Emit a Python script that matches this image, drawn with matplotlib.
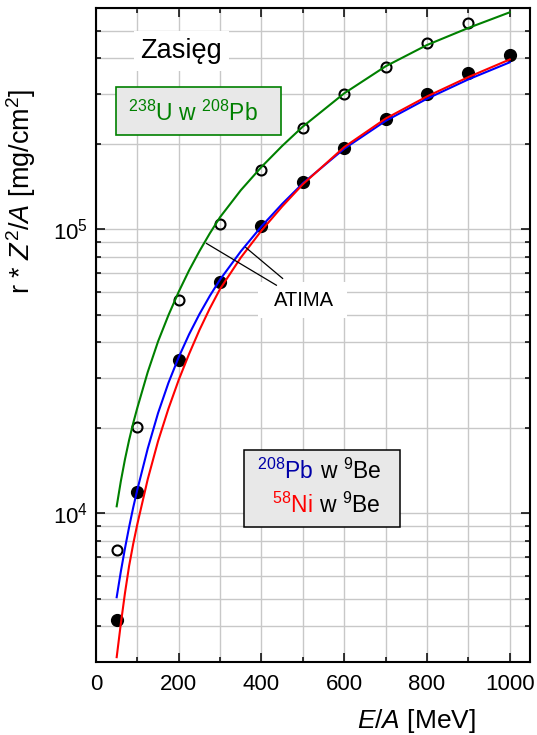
import matplotlib
matplotlib.use("Agg")
import matplotlib.pyplot as plt
from matplotlib.patches import Rectangle
from matplotlib.ticker import MultipleLocator, LogLocator, NullFormatter

# czcionki podobne do Arial, indeksy gorne tez w tej samej czcionce
plt.rcParams["font.family"] = ["Liberation Sans", "DejaVu Sans"]
plt.rcParams["mathtext.fontset"] = "custom"
plt.rcParams["mathtext.rm"] = "Liberation Sans"
plt.rcParams["mathtext.it"] = "Liberation Sans:italic"
plt.rcParams["mathtext.bf"] = "Liberation Sans:bold"
plt.rcParams["mathtext.default"] = "regular"

# pomiary (punkty)
e_u_pb = [50, 100, 200, 300, 400, 500, 600, 700, 800, 900]
r_u_pb = [7410, 20200, 56400, 104100, 161400, 227000, 298700, 373000, 453000, 532000]

e_be = [50, 100, 200, 300, 400, 500, 600, 700, 800, 900, 1000]
r_be = [4200, 11890, 34600, 65200, 102500, 146000, 193500, 244200, 298700, 355600, 409000]

# krzywe ATIMA
e_green = [50, 60, 70, 80, 90, 100, 125, 150, 175, 200, 225, 250, 275, 300, 350,
           400, 450, 500, 600, 700, 800, 900, 1000]
r_green = [10590, 12970, 15490, 18110, 20800, 23550, 31400, 40270, 49770, 60260,
           71610, 83660, 96600, 110300, 137100, 165600, 196300, 229600, 300600,
           374100, 444600, 510500, 579400]

e_blue = [50, 60, 70, 80, 90, 100, 125, 150, 175, 200, 225, 250, 275, 300, 350,
          400, 450, 500, 600, 700, 800, 900, 1000]
r_blue = [5070, 6240, 7530, 8950, 10500, 12130, 16900, 22540, 28770, 35480, 42660,
          50230, 58210, 66530, 83560, 102300, 122700, 145000, 191900, 240400,
          287700, 336500, 386400]

e_red = [50, 60, 70, 80, 90, 100, 125, 150, 175, 200, 225, 250, 275, 300, 350,
         400, 450, 500, 600, 700, 800, 900, 1000]
r_red = [3120, 4090, 5240, 6530, 7820, 9180, 13180, 17950, 23340, 29510, 36390,
         44160, 52600, 61660, 79430, 98860, 120200, 143900, 194500, 244900,
         293100, 342800, 395400]

# linie od napisu ATIMA do krzywych
atima_e1 = [267, 436]
atima_r1 = [89100, 63500]
atima_e2 = [362, 451]
atima_r2 = [86200, 67100]

green = "#008000"
pb_blue = "#0000a8"

fig = plt.figure(figsize=(5.37, 7.35), dpi=100)
ax = fig.add_axes([96 / 537, 1 - 662 / 735, 434 / 537, 654 / 735])

ax.set_yscale("log")
ax.set_xlim(0, 1049)
ax.set_ylim(3000, 6.0e5)

ax.set_axisbelow(True)
ax.grid(True, which="both", color="#c8c8c8", lw=1.0)

ax.xaxis.set_major_locator(MultipleLocator(200))
ax.xaxis.set_minor_locator(MultipleLocator(100))
ax.yaxis.set_major_locator(LogLocator(base=10))
ax.yaxis.set_minor_locator(LogLocator(base=10, subs=range(2, 10)))
ax.yaxis.set_minor_formatter(NullFormatter())

ax.tick_params(which="both", direction="in", top=True, right=True, width=1.1,
               labelsize=16)
ax.tick_params(which="major", length=6.5)
ax.tick_params(which="minor", length=3.5)
ax.tick_params(axis="x", pad=9)
ax.tick_params(axis="y", pad=6)
for s in ax.spines.values():
    s.set_linewidth(1.5)

# punkty pod liniami
ax.plot(e_u_pb, r_u_pb, "o", ms=7.2, mfc="none", mec="black", mew=1.5, zorder=2)
ax.plot(e_be, r_be, "o", ms=8.5, color="black", zorder=2)

ax.plot(e_green, r_green, color=green, lw=1.5, zorder=3)
ax.plot(e_blue, r_blue, color="blue", lw=1.5, zorder=3)
ax.plot(e_red, r_red, color="red", lw=1.5, zorder=3)

ax.plot(atima_e1, atima_r1, color="black", lw=0.9, zorder=3)
ax.plot(atima_e2, atima_r2, color="black", lw=0.9, zorder=3)

# napisy na wykresie
ax.text(0.197, 0.934, "Zasięg", transform=ax.transAxes, fontsize=19.5,
        ha="center", va="center", zorder=4,
        bbox=dict(facecolor="white", edgecolor="none", pad=5))

ax.add_patch(Rectangle((0.0461, 0.8058), 0.380, 0.0734, transform=ax.transAxes,
                       facecolor="#e8e8e8", edgecolor=green, lw=1.2, zorder=1))
ax.text(0.2235, 0.8394, r"$^{238}$U w $^{208}$Pb", transform=ax.transAxes,
        fontsize=16.5, color=green, ha="center", va="center", zorder=4)

ax.add_patch(Rectangle((0.3733, 0.526), 0.2051, 0.055, transform=ax.transAxes,
                       facecolor="white", edgecolor="none", zorder=1))
ax.text(0.479, 0.5535, "ATIMA", transform=ax.transAxes, fontsize=14.5,
        ha="center", va="center", zorder=4)

ax.add_patch(Rectangle((0.341, 0.2064), 0.3594, 0.1177, transform=ax.transAxes,
                       facecolor="#e8e8e8", edgecolor="black", lw=1.1, zorder=1))
t1 = ax.text(0.371, 0.2794, r"$^{208}$Pb", transform=ax.transAxes, fontsize=16.5,
             color=pb_blue, va="baseline", zorder=4)
ax.annotate(r"w $^{9}$Be", xy=(1, 0), xycoords=t1, xytext=(4.5, 0),
            textcoords="offset points", fontsize=16.5, va="bottom", zorder=4)
t2 = ax.text(0.4055, 0.2283, r"$^{58}$Ni", transform=ax.transAxes, fontsize=16.5,
             color="red", va="baseline", zorder=4)
ax.annotate(r"w $^{9}$Be", xy=(1, 0), xycoords=t2, xytext=(4.5, 0),
            textcoords="offset points", fontsize=16.5, va="bottom", zorder=4)

ax.set_xlabel(r"$\mathit{E/A}$ [MeV]", fontsize=19)
ax.xaxis.set_label_coords(0.7385, -0.0895)
ax.xaxis.label.set_va("center")
ax.set_ylabel(r"r * $\mathit{Z}^2$/$\mathit{A}$ [mg/cm$^2$]", fontsize=19.5)
ax.yaxis.set_label_coords(-0.1717, 0.7194)
ax.yaxis.label.set_va("center")

fig.savefig("out.png", dpi=100)
